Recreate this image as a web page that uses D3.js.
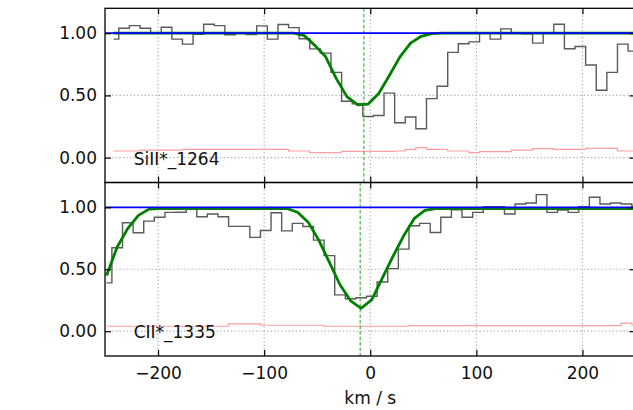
<!DOCTYPE html>
<html>
<head>
<meta charset="utf-8">
<script src="https://cdn.jsdelivr.net/npm/d3@7"></script>
<style>
  html, body { margin: 0; padding: 0; background: #fff; }
  svg { display: block; }
  text { font-family: "DejaVu Sans", sans-serif; }
</style>
</head>
<body>
<svg id="chart" width="633" height="410"></svg>
<script>
// ---------------- data ----------------
const xTicks = [-200, -100, 0, 100, 200];
const yTicks = [0, 0.5, 1.0];
const xLabel = "km / s";

const topName = "SiII*_1264";
const topCenter = -6;
const topVel = [-242,-232,-222,-212,-202,-192,-182,-172,-162,-152,-142,-132,-122,-112,-102,-92,-82,-72,-62,-52,-42,-32,-22,-12,-2,8,18,28,38,48,58,68,78,88,98,108,118,128,138,148,158,168,178,188,198,208,218,228,238,248];
const topFlux = [0.952,1.04,1.061,1.04,1.0,1.048,0.952,0.912,0.992,1.072,1.061,0.987,1.0,0.989,1.059,0.952,1.07,1.045,0.955,0.874,0.84,0.685,0.453,0.432,0.33,0.338,0.518,0.28,0.326,0.232,0.474,0.573,0.846,0.915,0.93,1.0,0.952,1.035,1.0,0.995,0.92,1.0,1.072,0.875,0.893,0.744,0.541,0.685,0.912,0.856];
const topModel = [1,1,1,1,1,1,1,1,1,1,1,1,1,1,1,1,1,1,0.98,0.9,0.81,0.635,0.49,0.425,0.43,0.515,0.66,0.81,0.92,0.975,0.997,1,1,1,1,1,1,1,1,1,1,1,1,1,1,1,1,1,1,1];
const topErr = [0.053,0.053,0.053,0.06,0.06,0.06,0.06,0.066,0.066,0.066,0.066,0.066,0.066,0.066,0.066,0.066,0.066,0.053,0.053,0.04,0.04,0.04,0.05,0.05,0.05,0.05,0.05,0.053,0.066,0.08,0.066,0.066,0.053,0.053,0.04,0.048,0.048,0.048,0.06,0.06,0.072,0.072,0.066,0.066,0.066,0.075,0.075,0.075,0.053,0.053];

const botName = "CII*_1335";
const botCenter = -9.5;
const botVel = [-248.5,-238.5,-228.5,-218.5,-208.5,-198.5,-188.5,-178.5,-168.5,-158.5,-148.5,-138.5,-128.5,-118.5,-108.5,-98.5,-88.5,-78.5,-68.5,-58.5,-48.5,-38.5,-28.5,-18.5,-8.5,1.5,11.5,21.5,31.5,41.5,51.5,61.5,71.5,81.5,91.5,101.5,111.5,121.5,131.5,141.5,151.5,161.5,171.5,181.5,191.5,201.5,211.5,221.5,231.5,241.5,251.5];
const botFlux = [0.39,0.673,0.875,0.795,0.888,0.92,0.959,0.96,0.983,0.924,0.946,0.924,0.846,0.846,0.757,0.813,0.956,0.81,0.87,0.845,0.735,0.61,0.293,0.262,0.27,0.282,0.397,0.505,0.662,0.851,0.87,0.797,0.919,0.98,0.919,0.959,1.005,1.005,0.946,1.026,1.034,1.102,0.959,0.978,0.959,1.005,1.081,1.026,1.034,1.026,1.01];
const botModel = [0.45,0.68,0.83,0.935,0.985,0.99,0.99,0.99,0.99,0.99,0.99,0.99,0.99,0.99,0.99,0.99,0.99,0.99,0.96,0.88,0.735,0.555,0.375,0.245,0.185,0.255,0.43,0.605,0.77,0.91,0.975,0.99,0.99,0.99,0.99,0.99,0.99,0.99,0.99,0.99,0.99,0.99,0.99,0.99,0.99,0.99,0.99,0.99,0.99,0.99,0.99];
const botErr = [0.04,0.04,0.04,0.04,0.04,0.04,0.04,0.04,0.04,0.04,0.04,0.04,0.06,0.06,0.06,0.048,0.048,0.048,0.048,0.048,0.048,0.04,0.04,0.04,0.04,0.04,0.04,0.04,0.04,0.045,0.045,0.045,0.045,0.045,0.045,0.045,0.045,0.045,0.045,0.045,0.045,0.045,0.045,0.045,0.045,0.045,0.045,0.045,0.045,0.065,0.05];

const continuum = 1.0;
const xDomain = [-250, 250];
const yDomain = [-0.2, 1.2];

// ---------------- layout ----------------
const svg = d3.select("#chart");
const left = 105, right = 635.5;
const panels = [
  { name: topName, vel: topVel, flux: topFlux, model: topModel, err: topErr, center: topCenter, top: 8.3, bottom: 182.5, bottomLabels: false },
  { name: botName, vel: botVel, flux: botFlux, model: botModel, err: botErr, center: botCenter, top: 182.5, bottom: 356, bottomLabels: true }
];

const x = d3.scaleLinear().domain(xDomain).range([left, right]);
const FS = 17;
const tick = 6;

panels.forEach((p, i) => {
  const y = d3.scaleLinear().domain(yDomain).range([p.bottom, p.top]);
  const g = svg.append("g");
  const clipId = "clip" + i;
  svg.append("clipPath").attr("id", clipId)
    .append("rect").attr("x", left).attr("y", p.top).attr("width", right - left).attr("height", p.bottom - p.top);

  // grid
  const grid = g.append("g").attr("stroke", "#b0b0b0").attr("stroke-width", 1.2).attr("stroke-dasharray", "1.3,2.3");
  xTicks.forEach(t => grid.append("line").attr("x1", x(t)).attr("x2", x(t)).attr("y1", p.top).attr("y2", p.bottom));
  yTicks.forEach(t => grid.append("line").attr("x1", left).attr("x2", right).attr("y1", y(t)).attr("y2", y(t)));

  const plot = g.append("g").attr("clip-path", `url(#${clipId})`);
  const pts = (arr) => p.vel.map((v, k) => [v, arr[k]]);
  const stepLine = d3.line().x(d => x(d[0])).y(d => y(d[1])).curve(d3.curveStep);
  const smoothLine = d3.line().x(d => x(d[0])).y(d => y(d[1]));

  // error spectrum
  plot.append("path").datum(pts(p.err)).attr("d", stepLine)
    .attr("fill", "none").attr("stroke", "#ff9f9f").attr("stroke-width", 1.2);
  // data
  plot.append("path").datum(pts(p.flux)).attr("d", stepLine)
    .attr("fill", "none").attr("stroke", "#5a5a5a").attr("stroke-width", 1.4);
  // center velocity
  plot.append("line").attr("x1", x(p.center)).attr("x2", x(p.center)).attr("y1", p.top).attr("y2", p.bottom)
    .attr("stroke", "#3aaa3a").attr("stroke-width", 1.1).attr("stroke-dasharray", "3.5,2");
  // model
  plot.append("path").datum(pts(p.model)).attr("d", smoothLine)
    .attr("fill", "none").attr("stroke", "#008000").attr("stroke-width", 2.8).attr("stroke-linejoin", "round");
  // continuum
  plot.append("line").attr("x1", left).attr("x2", right).attr("y1", y(continuum)).attr("y2", y(continuum))
    .attr("stroke", "#0000ff").attr("stroke-width", 1.7);

  // label
  g.append("text").attr("x", x(-223)).attr("y", y(-0.057)).attr("font-size", FS).attr("fill", "#111").text(p.name);

  // axes (inward ticks)
  const axL = d3.axisLeft(y).tickValues(yTicks).tickFormat(d3.format(".2f")).tickSize(-tick).tickPadding(8);
  const axR = d3.axisRight(y).tickValues(yTicks).tickFormat("").tickSize(-tick);
  const axT = d3.axisTop(x).tickValues(xTicks).tickFormat("").tickSize(-tick);
  const axB = d3.axisBottom(x).tickValues(xTicks).tickSize(-tick).tickPadding(11)
    .tickFormat(p.bottomLabels ? (d => d3.format("")(d).replace("-", "\u2212")) : "");

  [
    g.append("g").attr("transform", `translate(${left},0)`).call(axL),
    g.append("g").attr("transform", `translate(${right},0)`).call(axR),
    g.append("g").attr("transform", `translate(0,${p.top})`).call(axT),
    g.append("g").attr("transform", `translate(0,${p.bottom})`).call(axB)
  ].forEach(a => {
    a.selectAll(".domain").remove();
    a.selectAll(".tick line").attr("stroke", "#000").attr("stroke-width", 1.2);
    a.selectAll("text").attr("font-size", FS).attr("fill", "#111").attr("font-family", "DejaVu Sans");
  });

  // frame
  g.append("rect").attr("x", left).attr("y", p.top).attr("width", right - left).attr("height", p.bottom - p.top)
    .attr("fill", "none").attr("stroke", "#000").attr("stroke-width", 1.3);
});

svg.append("text").attr("x", (left + right) / 2).attr("y", 404).attr("text-anchor", "middle")
  .attr("font-size", FS).attr("fill", "#111").text(xLabel);
</script>
</body>
</html>
